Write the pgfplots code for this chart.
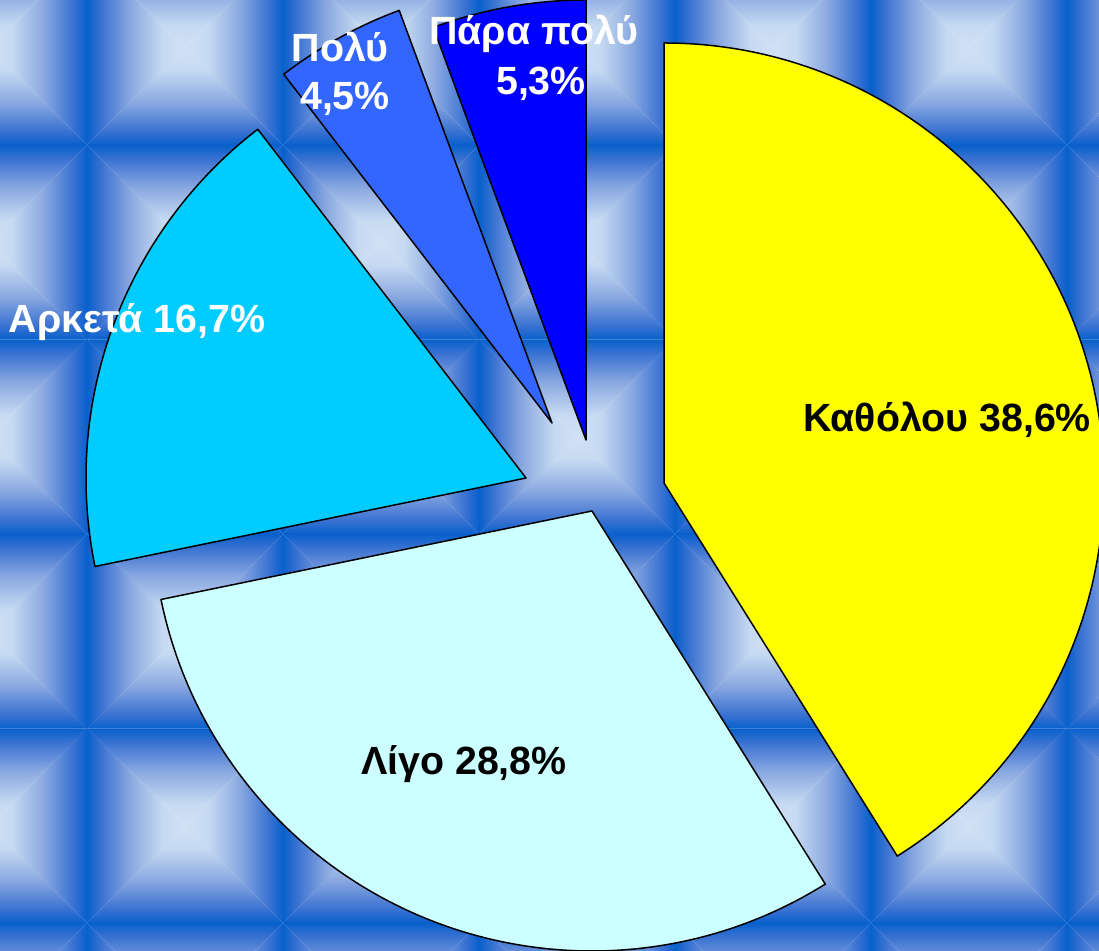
\documentclass[border=0pt]{standalone}
\usepackage{pgfplots}
\pgfplotsset{compat=1.18}
\usepackage{fontspec}
\setmainfont{Liberation Sans}
\definecolor{tdark}{RGB}{8,96,204}
\definecolor{tc1}{RGB}{60,115,210}
\definecolor{tc2}{RGB}{140,170,225}
\definecolor{tc3}{RGB}{198,218,242}
\definecolor{tlight}{RGB}{208,225,245}
\definecolor{cKath}{RGB}{255,255,0}
\definecolor{cLigo}{RGB}{204,255,255}
\definecolor{cArk}{RGB}{0,204,255}
\definecolor{cPoly}{RGB}{51,102,255}
\definecolor{cPara}{RGB}{0,0,255}
\pgfdeclareverticalshading{tileB}{100bp}{color(0bp)=(tdark); color(25bp)=(tdark); color(32.5bp)=(tc1); color(47.5bp)=(tc2); color(63.5bp)=(tc3); color(75bp)=(tlight); color(100bp)=(tlight)}
\pgfdeclareverticalshading{tileT}{100bp}{color(0bp)=(tlight); color(25bp)=(tlight); color(36.5bp)=(tc3); color(52.5bp)=(tc2); color(67.5bp)=(tc1); color(75bp)=(tdark); color(100bp)=(tdark)}
\pgfdeclarehorizontalshading{tileL}{100bp}{color(0bp)=(tdark); color(25bp)=(tdark); color(32.5bp)=(tc1); color(47.5bp)=(tc2); color(63.5bp)=(tc3); color(75bp)=(tlight); color(100bp)=(tlight)}
\pgfdeclarehorizontalshading{tileR}{100bp}{color(0bp)=(tlight); color(25bp)=(tlight); color(36.5bp)=(tc3); color(52.5bp)=(tc2); color(67.5bp)=(tc1); color(75bp)=(tdark); color(100bp)=(tdark)}
% values (per cent)
\def\vKath{38.6}
\def\vLigo{28.8}
\def\vArk{16.7}
\def\vPoly{4.5}
\def\vPara{5.3}
\pgfmathsetmacro\T{\vKath+\vLigo+\vArk+\vPoly+\vPara}
\pgfmathsetmacro\aA{90}
\pgfmathsetmacro\aB{\aA-\vKath/\T*360}
\pgfmathsetmacro\aC{\aB-\vLigo/\T*360}
\pgfmathsetmacro\aD{\aC-\vArk/\T*360}
\pgfmathsetmacro\aE{\aD-\vPoly/\T*360}
\pgfmathsetmacro\aF{\aE-\vPara/\T*360}
\newcommand\lab{\fontsize{39.5}{48}\selectfont\bfseries}
\begin{document}
\begin{tikzpicture}[x=1bp,y=1bp]
\begin{scope}
\clip (0,0) rectangle (1099,951);
\foreach \i in {0,...,6}{
 \foreach \j in {0,...,5}{
   \pgfmathsetmacro\xa{-109+196*\i}
   \pgfmathsetmacro\xb{\xa+196}
   \pgfmathsetmacro\xc{\xa+98}
   \pgfmathsetmacro\ya{951-(-49.5+194.5*\j)}
   \pgfmathsetmacro\yb{\ya-194.5}
   \pgfmathsetmacro\yc{\ya-97.25}
   \shade[shading=tileB] (\xa,\yb) -- (\xb,\yb) -- (\xc,\yc) -- cycle;
   \shade[shading=tileT] (\xa,\ya) -- (\xb,\ya) -- (\xc,\yc) -- cycle;
   \shade[shading=tileL] (\xa,\ya) -- (\xa,\yb) -- (\xc,\yc) -- cycle;
   \shade[shading=tileR] (\xb,\ya) -- (\xb,\yb) -- (\xc,\yc) -- cycle;
 }}
\end{scope}
\begin{axis}[x=1bp,y=1bp,xmin=0,xmax=1099,ymin=0,ymax=951,
  at={(0,0)},anchor=south west,hide axis,clip=true]
\draw[fill=cKath,line width=1.5bp,line join=round] (axis cs:664,468) -- ++(\aA:440bp) arc[start angle=\aA,end angle=\aB,radius=440bp] -- cycle;
\draw[fill=cLigo,line width=1.5bp,line join=round] (axis cs:592,440) -- ++(\aB:440bp) arc[start angle=\aB,end angle=\aC,radius=440bp] -- cycle;
\draw[fill=cArk,line width=1.5bp,line join=round] (axis cs:526,473) -- ++(\aC:440bp) arc[start angle=\aC,end angle=\aD,radius=440bp] -- cycle;
\draw[fill=cPoly,line width=1.5bp,line join=round] (axis cs:552,528) -- ++(\aD:440bp) arc[start angle=\aD,end angle=\aE,radius=440bp] -- cycle;
\draw[fill=cPara,line width=1.5bp,line join=round] (axis cs:586,511) -- ++(\aE:440bp) arc[start angle=\aE,end angle=\aF,radius=440bp] -- cycle;
\node[font=\lab,text=black,anchor=base,inner sep=0pt] at (axis cs:947,519) {Καθόλου 38,6\%};
\node[font=\lab,text=black,anchor=base,inner sep=0pt] at (axis cs:464,176) {Λίγο 28,8\%};
\node[font=\lab,text=white,anchor=base,inner sep=0pt] at (axis cs:137,618) {Αρκετά 16,7\%};
\node[font=\lab,text=white,anchor=base,inner sep=0pt] at (axis cs:340,889) {Πολύ};
\node[font=\lab,text=white,anchor=base,inner sep=0pt] at (axis cs:345,841) {4,5\%};
\node[font=\lab,text=white,anchor=base,inner sep=0pt] at (axis cs:534,906) {Πάρα πολύ};
\node[font=\lab,text=white,anchor=base,inner sep=0pt] at (axis cs:541,856) {5,3\%};
\end{axis}
\pgfresetboundingbox
\path[use as bounding box] (0,0) rectangle (1099,951);
\end{tikzpicture}
\end{document}
